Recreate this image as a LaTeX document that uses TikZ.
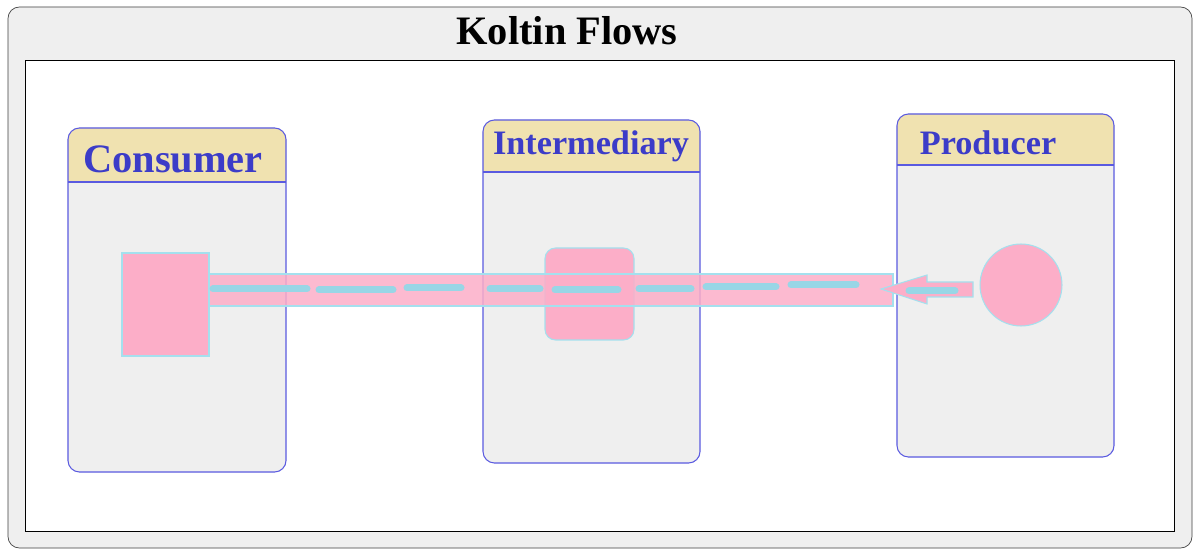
\documentclass[tikz,border=0pt]{standalone}
\usepackage{fontspec}
\setmainfont{Liberation Serif}
\definecolor{panelgray}{HTML}{EFEFEF}
\definecolor{headfill}{HTML}{F0E2B0}
\definecolor{stageblue}{HTML}{5A5AE0}
\definecolor{labelblue}{HTML}{3C3CC8}
\definecolor{flowpink}{HTML}{FCAEC8}
\definecolor{edgeblue}{HTML}{A4E0EE}
\definecolor{dashblue}{HTML}{98D6E6}
\begin{document}
\begin{tikzpicture}[x=0.02cm, y=-0.02cm,
    stage/.style={draw=stageblue, line width=0.6pt, rounded corners=6.5pt},
    flow/.style={fill=flowpink, draw=edgeblue, line width=0.6pt},
    flowdash/.style={draw=dashblue, line width=0.14cm, line cap=round}]
\fill[white] (0,0) rectangle (1200,550);
% frame and title
\draw[black!75, fill=panelgray, rounded corners=6.5pt] (8,7) rectangle (1192,548);
\draw[black, fill=white] (25,60) rectangle (1174,531);
\node[anchor=base, font=\fontsize{23}{28}\selectfont\bfseries] (title) at (567,45) {Koltin Flows};
% the three stages
\foreach \xl/\xr/\yt/\yh/\yb/\tx/\ty/\fs/\name/\txt in {
    68/286/128/182/472/173/173/23/consumer/Consumer,
    483/700/120/172/463/591/155/19.5/intermediary/Intermediary,
    897/1114/114/165/457/988/155/19.5/producer/Producer}
{
    \fill[panelgray, rounded corners=6.5pt] (\xl,\yt) rectangle (\xr,\yb);
    \fill[headfill] (\xl,\yh) [rounded corners=6.5pt]-- (\xl,\yt) -- (\xr,\yt) [sharp corners]-- (\xr,\yh) -- cycle;
    \draw[stageblue, line width=0.6pt] (\xl,\yh) -- (\xr,\yh);
    \draw[stage] (\xl,\yt) rectangle (\xr,\yb);
    \node[anchor=base, text=labelblue, font=\fontsize{\fs}{\fs}\selectfont\bfseries] (\name) at (\tx,\ty) {\txt};
}
% consumer, buffer and source
\draw[flow] (122,253) rectangle (209,356);
\coordinate (sink) at (209,274);
\draw[flow, rounded corners=6pt] (545,248) rectangle (634,340);
\node[flow, circle, minimum size=1.64cm, inner sep=0pt] (source) at (1021,285) {};
% the pipe
\draw[flow, fill opacity=0.85] (sink) rectangle (893,306);
\foreach \a/\b/\y in {213/307/289, 319/393/290, 407/461/288, 490/540/289,
    555/618/290, 639/691/289, 706/776/287, 791/856/285}
{
    \draw[flowdash] (\a,\y) -- (\b,\y);
}
% emitting arrow
\draw[flow] (973,282) -- (927,282) -- (927,275) -- (881,289)
    -- (927,304) -- (927,297) -- (973,297) -- cycle;
\draw[flowdash] (909,291) -- (955,291);
\end{tikzpicture}
\end{document}
